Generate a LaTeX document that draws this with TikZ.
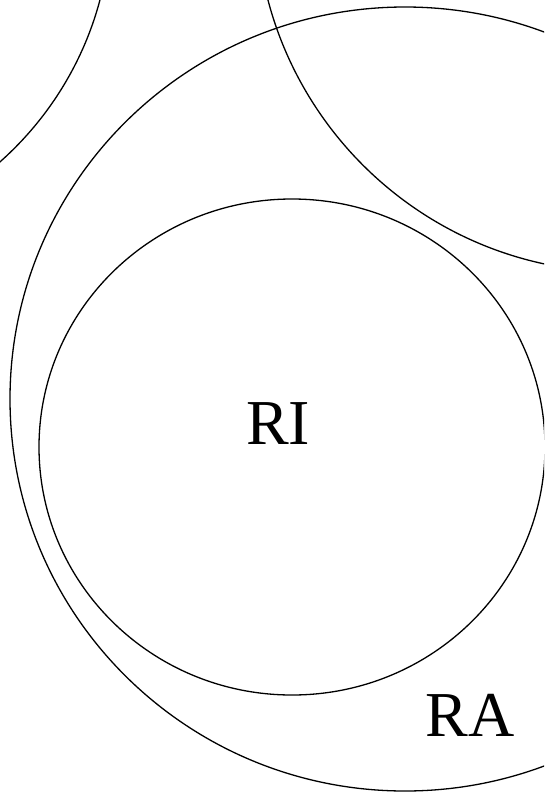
\documentclass[tikz,border=0pt]{standalone}
\usepackage{fontspec}
\setmainfont{Liberation Serif}
\begin{document}
\begin{tikzpicture}[x=1pt,y=-1pt,
  ring/.style={draw=black,line width=1.3pt},
  lbl/.style={font=\fontsize{64}{64}\selectfont,inner sep=0pt}]
\useasboundingbox (0,0) rectangle (544,793);
\clip (0,0) rectangle (544,793);
\draw[ring] (-219,-85) circle [radius=330];
\draw[ring] (621,-93) circle [radius=365];
\draw[ring] (405,399) ellipse [x radius=395, y radius=392];
\draw[ring] (292,447) ellipse [x radius=253, y radius=248];
\node[lbl] (ri) at (278,424) {RI};
\node[lbl] (ra) at (470,715) {RA};
\end{tikzpicture}
\end{document}
